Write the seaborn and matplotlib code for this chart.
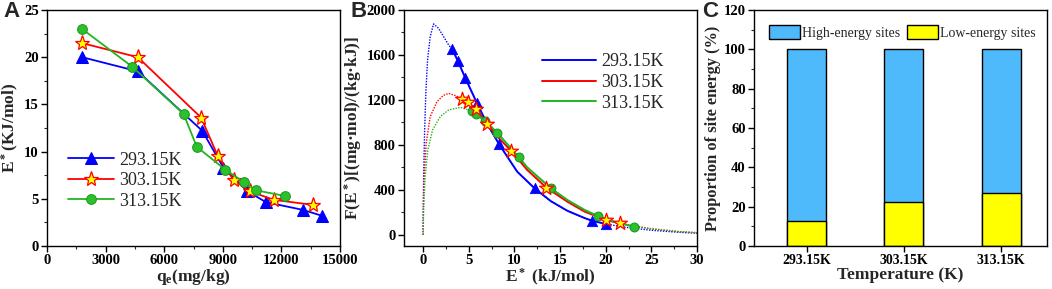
import numpy as np
import pandas as pd
import matplotlib
matplotlib.use("Agg")
import matplotlib.pyplot as plt
from matplotlib.patches import Patch
import seaborn as sns

# ---------------- data ----------------
temps = ["293.15K", "303.15K", "313.15K"]

# Panel A: E* vs qe
qe_293 = [1800, 4650, 7950, 9030, 10230, 11200, 13090, 14100]
E_293 = [20.0, 18.5, 12.2, 8.3, 5.85, 4.65, 3.83, 3.19]
qe_303 = [1780, 4650, 7890, 8740, 9550, 10400, 11610, 13600]
E_303 = [21.5, 20.0, 13.6, 9.55, 7.0, 5.78, 4.89, 4.36]
qe_313 = [1790, 4360, 6990, 7670, 9120, 10060, 10700, 12190]
E_313 = [23.0, 19.0, 14.0, 10.5, 8.1, 6.8, 5.9, 5.3]

# Panel B: fitted site-energy distribution curves
cE_293 = [0, 0.02, 0.06, 0.15, 0.29, 0.48, 0.77, 1.14, 1.69, 2.24, 2.79, 3.2, 3.8, 4.6, 5.9,
          7.0, 8.3, 10.3, 12.2, 14.0, 15.8, 17.7, 18.5, 20.0, 22, 25, 28, 30]
cF_293 = [0, 300, 550, 900, 1259, 1556, 1763, 1876, 1837, 1763, 1689, 1650, 1547, 1399, 1170,
          990, 809, 563, 415, 300, 215, 150, 127, 98, 70, 42, 24, 16]
cE_303 = [0, 0.03, 0.11, 0.33, 0.77, 1.51, 2.2, 2.79, 3.5, 4.27, 4.89, 5.78, 7.0, 8.3,
          9.63, 11.4, 13.5, 15.8, 17.7, 20.04, 21.53, 25, 28, 30]
cF_303 = [0, 250, 519, 815, 1052, 1185, 1240, 1259, 1240, 1209, 1179, 1120, 987, 860,
          750, 578, 421, 296, 207, 133, 104, 55, 30, 20]
cE_313 = [0, 0.04, 0.22, 0.51, 1.03, 1.87, 2.79, 4.08, 5.3, 5.8, 6.8, 8.1, 10.5, 11.4,
          14.0, 15.8, 17.7, 19.1, 21, 23.1, 25, 28, 30]
cF_313 = [0, 222, 519, 756, 933, 1052, 1111, 1135, 1102, 1073, 1013, 910, 690, 601,
          415, 311, 222, 169, 115, 74, 55, 30, 20]

# Panel B markers
mE_293 = [3.2, 3.8, 4.6, 5.9, 8.3, 12.2, 18.5, 20.0]
mF_293 = [1650, 1547, 1399, 1170, 809, 415, 127, 98]
mE_303 = [4.27, 4.89, 5.78, 7.0, 9.63, 13.5, 20.04, 21.53]
mF_303 = [1209, 1179, 1120, 987, 750, 421, 133, 104]
mE_313 = [5.3, 5.8, 6.8, 8.1, 10.5, 14.0, 19.1, 23.1]
mF_313 = [1102, 1073, 1013, 910, 690, 415, 169, 74]

# Panel C: proportion of low-energy sites
low_energy = [12.9, 22.2, 26.8]
total = [100, 100, 100]

# ---------------- style ----------------
sns.set_theme(style="ticks")
plt.rcParams["font.family"] = ["Liberation Serif", "DejaVu Serif"]
plt.rcParams["mathtext.fontset"] = "custom"
plt.rcParams["mathtext.rm"] = "Liberation Serif:bold"
plt.rcParams["mathtext.it"] = "Liberation Serif:bold"
plt.rcParams["mathtext.bf"] = "Liberation Serif:bold"
plt.rcParams["axes.linewidth"] = 1.0

BLUE = "#0000FF"
RED = "#FF0000"
GREEN = "#22B522"
BAR_BLUE = "#4FBAFB"
YELLOW = "#FFFF00"

fig = plt.figure(figsize=(10.52, 2.89), dpi=100)
W, H = 1052, 289
def add_ax(l, r, t, b):
    return fig.add_axes([l / W, (H - b) / H, (r - l) / W, (b - t) / H])

axA = add_ax(47, 340, 10, 246)
axB = add_ax(404, 697, 10, 246)
axC = add_ax(754, 1047, 10, 246)

label_font = dict(fontsize=12.5, fontweight="bold")

def style_ax(ax, tsize=10.5):
    ax.tick_params(axis="both", which="major", direction="out", length=4, width=1,
                   top=False, right=False, colors="black", pad=2)
    ax.tick_params(axis="both", which="minor", direction="out", length=2.5, width=0.8,
                   top=False, right=False)
    for s in ax.spines.values():
        s.set_visible(True)
        s.set_color("black")
        s.set_linewidth(1.0)
    for lab in ax.get_xticklabels() + ax.get_yticklabels():
        lab.set_fontsize(tsize)
        lab.set_fontweight("bold")

# ---------------- Panel A ----------------
sns.lineplot(x=qe_293, y=E_293, ax=axA, sort=False, color=BLUE, lw=1.3, marker="^",
             markersize=8, markerfacecolor=BLUE, markeredgecolor=BLUE, label="293.15K")
sns.lineplot(x=qe_303, y=E_303, ax=axA, sort=False, color=RED, lw=1.3, marker="*",
             markersize=11, markerfacecolor=YELLOW, markeredgecolor=RED, markeredgewidth=0.9,
             label="303.15K")
sns.lineplot(x=qe_313, y=E_313, ax=axA, sort=False, color=GREEN, lw=1.3, marker="o",
             markersize=7, markerfacecolor="#2DC02D", markeredgecolor="#1E9A1E",
             label="313.15K")
axA.set_xlim(0, 15000)
axA.set_ylim(0, 25)
axA.set_xticks(np.arange(0, 15001, 3000))
axA.set_xticks(np.arange(1500, 15000, 3000), minor=True)
axA.set_yticks(np.arange(0, 26, 5))
axA.set_yticks(np.arange(2.5, 25, 5), minor=True)
axA.set_xlabel(r"$\mathrm{q_e}$(mg/kg)", labelpad=0, **label_font)
axA.set_ylabel(r"$\mathrm{E^*}$(KJ/mol)", labelpad=2, **label_font)
style_ax(axA)
axA.legend(loc="lower left", bbox_to_anchor=(0.03, 0.1), frameon=False, fontsize=13,
           handlelength=2.5, handletextpad=0.3, labelspacing=0.2, borderpad=0.2)

# ---------------- Panel B ----------------
curves = [(cE_293, cF_293, mE_293, mF_293, BLUE, "293.15K"),
          (cE_303, cF_303, mE_303, mF_303, RED, "303.15K"),
          (cE_313, cF_313, mE_313, mF_313, GREEN, "313.15K")]
for cE, cF, mE, mF, col, lab in curves:
    sns.lineplot(x=cE, y=cF, ax=axB, sort=False, color=col, lw=1.0, linestyle=(0, (1, 1)))
    seg = [(e, f) for e, f in zip(cE, cF) if min(mE) - 1e-9 <= e <= max(mE) + 1e-9]
    sns.lineplot(x=[s[0] for s in seg], y=[s[1] for s in seg], ax=axB, sort=False,
                 color=col, lw=1.4, label=lab)
sns.scatterplot(x=mE_293, y=mF_293, ax=axB, marker="^", s=55, color=BLUE, edgecolor=BLUE,
                zorder=5)
sns.scatterplot(x=mE_303, y=mF_303, ax=axB, marker="*", s=110, color=YELLOW, edgecolor=RED,
                linewidth=0.9, zorder=6)
sns.scatterplot(x=mE_313, y=mF_313, ax=axB, marker="o", s=40, color="#2DC02D",
                edgecolor="#1E9A1E", linewidth=0.8, zorder=4)
axB.set_xlim(-2.1, 30)
axB.set_ylim(-98, 2000)
axB.set_xticks(np.arange(0, 31, 5))
axB.set_xticks(np.arange(2.5, 30, 5), minor=True)
axB.set_yticks(np.arange(0, 2001, 400))
axB.set_yticks(np.arange(200, 2000, 400), minor=True)
axB.set_xlabel(r"$\mathrm{E^*}$ (kJ/mol)", labelpad=0, **label_font)
axB.set_ylabel(r"F($\mathrm{E^*}$)[(mg·mol)/(kg·kJ)]", labelpad=2, **label_font)
style_ax(axB)
axB.legend(loc="upper right", bbox_to_anchor=(0.93, 0.87), frameon=False, fontsize=13,
           handlelength=3.0, handletextpad=0.3, labelspacing=0.2, borderpad=0.2)

# ---------------- Panel C ----------------
sns.barplot(x=temps, y=total, ax=axC, color=BAR_BLUE, width=0.4, edgecolor="black",
            linewidth=1.0, saturation=1)
sns.barplot(x=temps, y=low_energy, ax=axC, color=YELLOW, width=0.4, edgecolor="black",
            linewidth=1.0, saturation=1)
axC.set_xlim(-0.54, 2.47)
axC.set_ylim(0, 120)
axC.set_yticks(np.arange(0, 121, 20))
axC.set_yticks(np.arange(10, 120, 20), minor=True)
axC.set_xlabel("Temperature (K)", labelpad=0, **label_font)
axC.set_ylabel("Proportion of site energy (%)", labelpad=2, fontsize=11.8, fontweight="bold")
style_ax(axC)
for lab in axC.get_xticklabels():
    lab.set_fontsize(10)
handles = [Patch(facecolor=BAR_BLUE, edgecolor="black", linewidth=1.0, label="High-energy sites"),
           Patch(facecolor=YELLOW, edgecolor="black", linewidth=1.0, label="Low-energy sites")]
axC.legend(handles=handles, loc="upper left", bbox_to_anchor=(0.01, 0.99), ncol=2,
           frameon=False, fontsize=10, handlelength=2.2, handleheight=1.2,
           handletextpad=0.15, columnspacing=0.5, borderpad=0.4)

# panel letters
for ax, letter, x in [(axA, "A", 3), (axB, "B", 350), (axC, "C", 702)]:
    fig.text(x / W, 1 - 1 / H, letter, fontsize=16, fontweight="bold",
             family=["Liberation Sans", "DejaVu Sans"], ha="left", va="top")

fig.savefig("out.png", dpi=100)
